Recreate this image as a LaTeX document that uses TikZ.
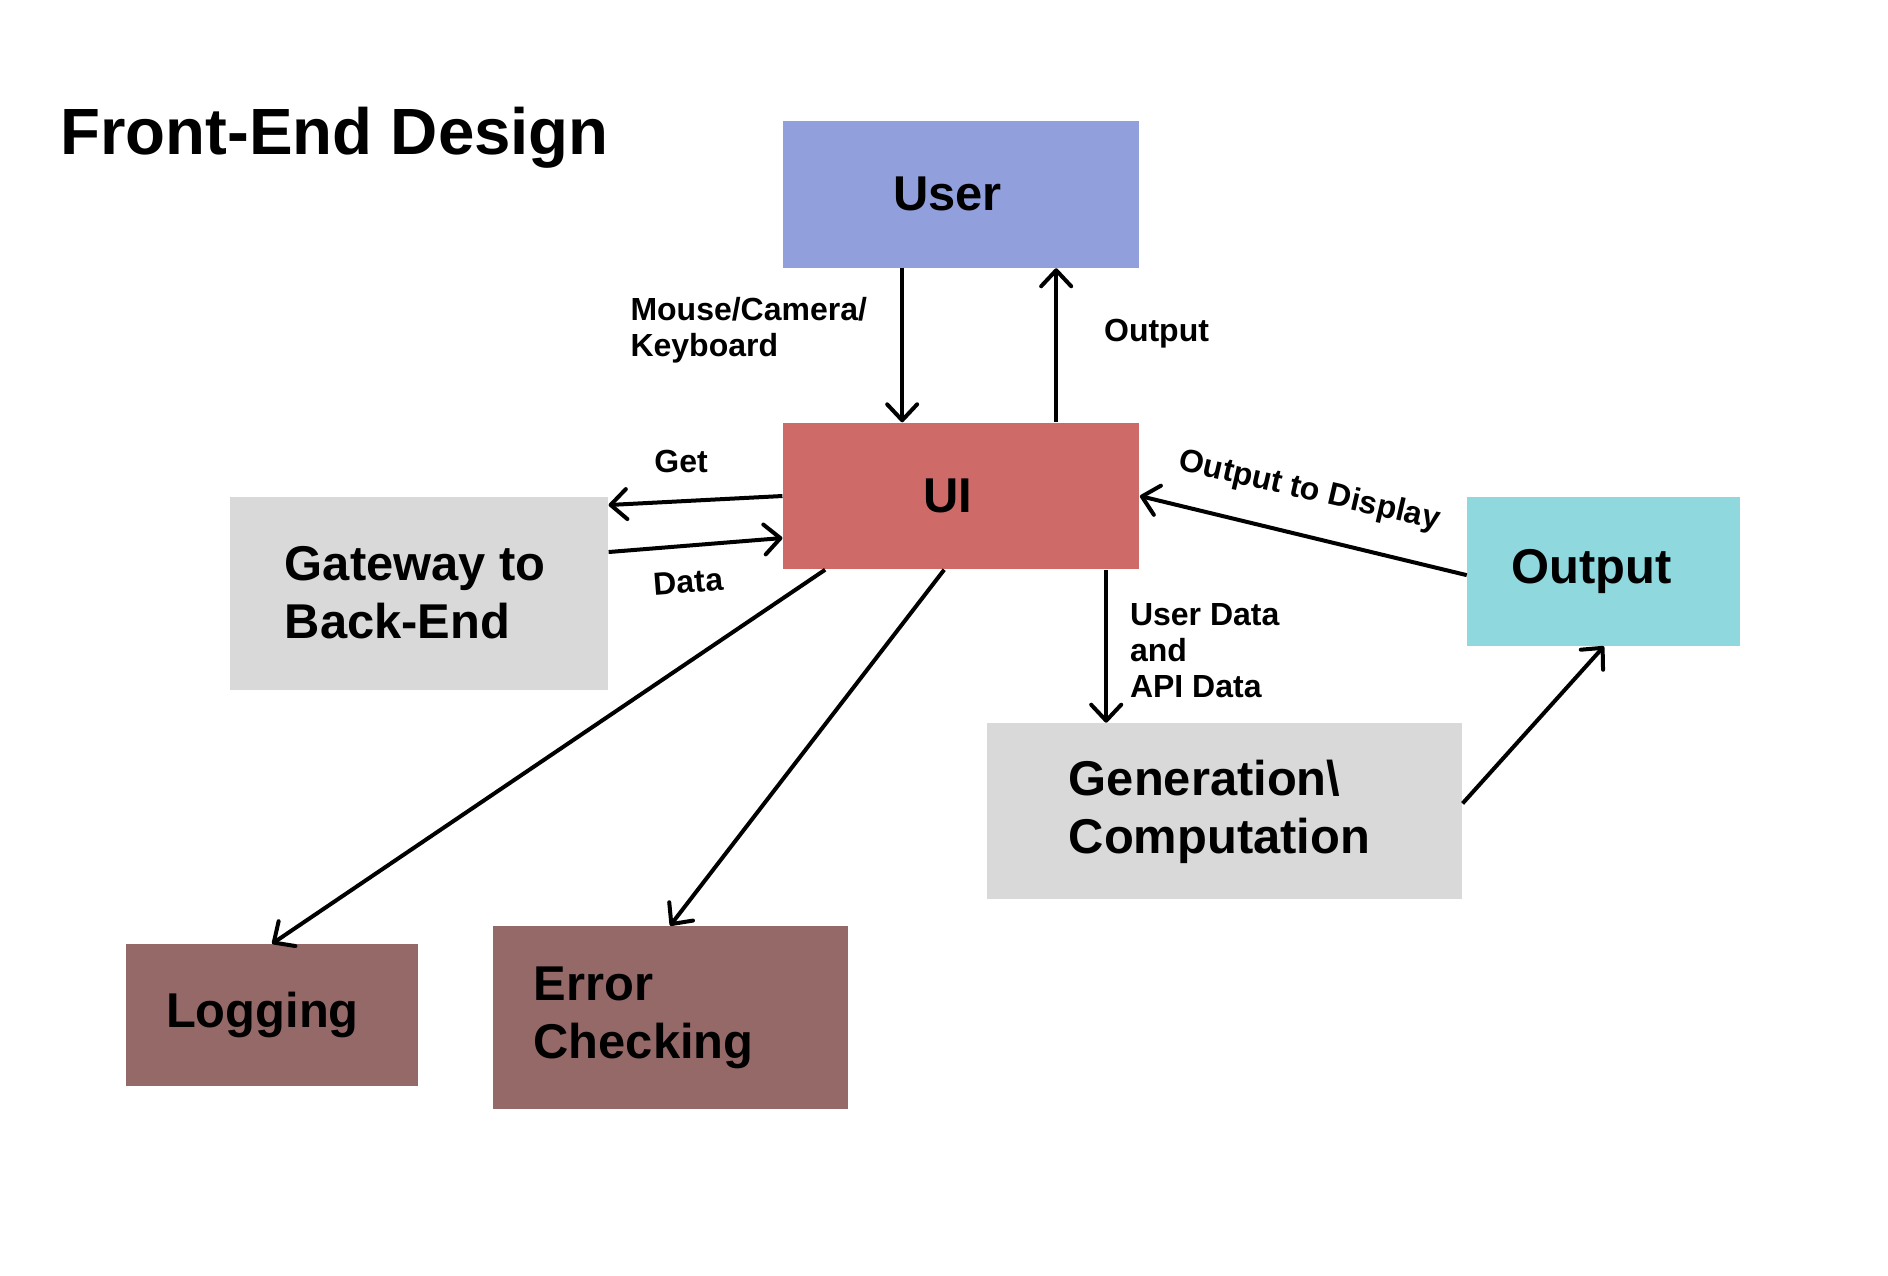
\documentclass[tikz,border=0pt]{standalone}
\usepackage{fontspec}
\setmainfont{Liberation Sans}
\usetikzlibrary{positioning,
        arrows.meta}
\usepackage{xcolor}
\definecolor{userblue}{HTML}{91A0DC}
\definecolor{uired}{HTML}{CE6B69}
\definecolor{boxgrey}{HTML}{D9D9D9}
\definecolor{outcyan}{HTML}{8FD8DE}
\definecolor{logbrown}{HTML}{966969}

\begin{document}
\begin{tikzpicture}[x=0.00995cm,y=-0.00995cm,
        box/.style={rectangle,inner ysep=0pt,align=flush left,font=\fontsize{13.9}{16.5}\selectfont\bfseries},
        lbl/.style={inner sep=0pt,align=left,font=\fontsize{9.1}{10.2}\selectfont\bfseries},
        arr/.style={-{Straight Barb[length=0.16cm,width=0.3cm,round]},line width=0.04cm}]
            \fill[white] (0,0) rectangle (1897.5,1282.4);
            \useasboundingbox (0,0) rectangle (1897.5,1282.4);

            \node [anchor=base west,inner sep=0pt,font=\fontsize{18.6}{22}\selectfont\bfseries] (title) at (60,155) {Front-End Design};

            \node [box,fill=userblue,minimum width=3.56cm,minimum height=1.47cm,inner xsep=1.10cm,text width=1.36cm] (user) at (966,195) {User};
            \node [box,fill=uired,minimum width=3.56cm,minimum height=1.46cm,inner xsep=1.40cm,text width=0.76cm] (ui) at (966,498.5) {UI};
            \node [box,fill=boxgrey,minimum width=3.78cm,minimum height=1.93cm,inner xsep=0.55cm,text width=2.68cm] (gateway) at (421,596) {Gateway to\\Back-End};
            \node [box,fill=outcyan,minimum width=2.73cm,minimum height=1.49cm,inner xsep=0.44cm,text width=1.85cm] (output) at (1612,574) {Output};
            \node [box,fill=boxgrey,minimum width=4.75cm,minimum height=1.76cm,inner xsep=0.82cm,text width=3.11cm] (gen) at (1230.5,815.5) {Generation\textbackslash\\Computation};
            \node [box,fill=logbrown,minimum width=2.92cm,minimum height=1.42cm,inner xsep=0.40cm,text width=2.12cm] (logging) at (273.5,1020.5) {Logging};
            \node [box,fill=logbrown,minimum width=3.55cm,minimum height=1.83cm,inner xsep=0.41cm,text width=2.73cm] (error) at (673.5,1023) {Error\\Checking};

            \node [lbl,anchor=west] (lblinput) at (633,332) {Mouse/Camera/\\Keyboard};
            \node [lbl,anchor=west] (lbloutput) at (1109,335) {Output};
            \node [lbl,anchor=west] (lblget) at (657,464) {Get};
            \node [lbl,rotate=4.5] (lbldata) at (692,585) {Data};
            \node [lbl,rotate=-13] (lbldisplay) at (1316,494) {Output to Display};
            \node [lbl,anchor=west] (lblapi) at (1135,654) {User Data\\and\\API Data};

            \draw [arr] ([xshift=-0.59cm]user.south) -- ([xshift=-0.59cm]ui.north);
            \draw [arr] ([xshift=0.95cm]ui.north) -- ([xshift=0.95cm]user.south);
            \draw [arr] (ui.west) -- ([yshift=0.88cm]gateway.east);
            \draw [arr] ([yshift=0.41cm]gateway.east) -- ([yshift=-0.42cm]ui.west);
            \draw [arr] ([yshift=-0.04cm]output.west) -- (ui.east);
            \draw [arr] ([xshift=1.45cm]ui.south) -- ([xshift=1.45cm]ui.south |- gen.north);
            \draw [arr] ([yshift=0.08cm]gen.east) -- (output.south);
            \draw [arr] ([xshift=-1.36cm]ui.south) -- (logging.north);
            \draw [arr] ([xshift=-0.17cm]ui.south) -- (error.north);
        \end{tikzpicture}
\end{document}
